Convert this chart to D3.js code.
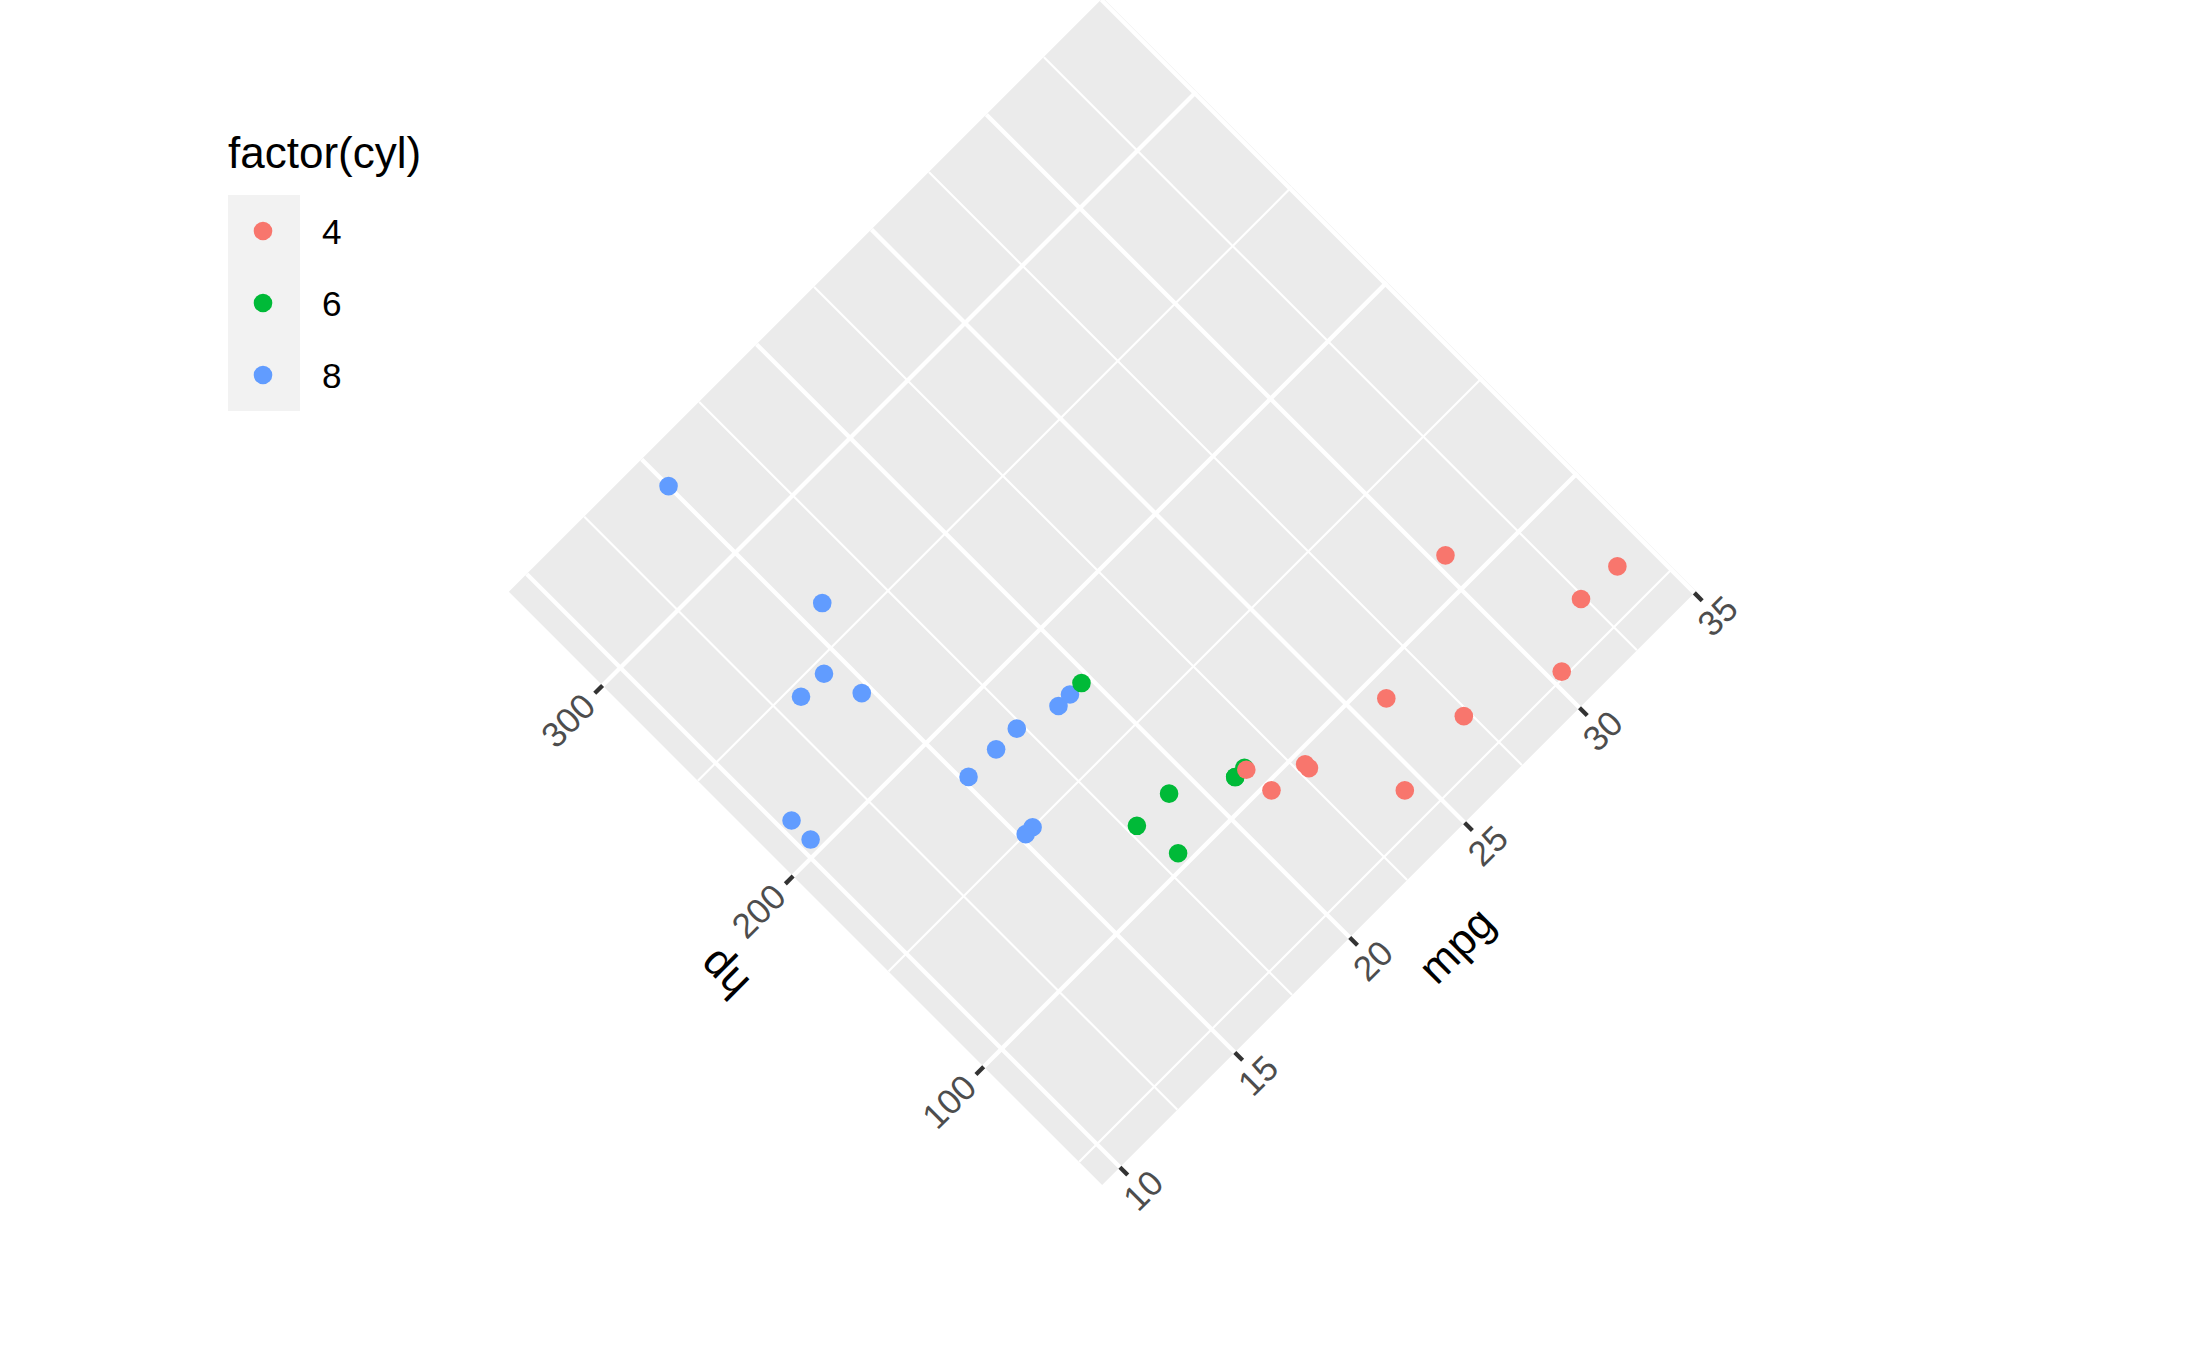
<!DOCTYPE html>
<html>
<head>
<meta charset="utf-8">
<script src="https://cdn.jsdelivr.net/npm/d3@7"></script>
<style>
  html, body { margin: 0; padding: 0; background: #ffffff; }
  svg { display: block; }
  text { font-family: "Liberation Sans", Arial, Helvetica, sans-serif; }
</style>
</head>
<body>
<svg id="chart" width="2188" height="1352"></svg>
<script>
// mtcars: mpg, hp, cyl
const mpg = [21.0, 21.0, 22.8, 21.4, 18.7, 18.1, 14.3, 24.4, 22.8, 19.2, 17.8, 16.4, 17.3, 15.2, 10.4, 10.4,
             14.7, 32.4, 30.4, 33.9, 21.5, 15.5, 15.2, 13.3, 19.2, 27.3, 26.0, 30.4, 15.8, 19.7, 15.0, 21.4];
const hp  = [110, 110, 93, 110, 175, 105, 245, 62, 95, 123, 123, 180, 180, 180, 205, 215,
             230, 66, 52, 65, 97, 150, 150, 245, 175, 66, 91, 113, 264, 175, 335, 109];
const cyl = [6, 6, 4, 6, 8, 6, 8, 4, 4, 6, 6, 8, 8, 8, 8, 8,
             8, 4, 4, 4, 4, 8, 8, 8, 8, 4, 4, 4, 8, 6, 8, 4];
const cylLevels = ["4", "6", "8"];
const cylColors = ["#F8766D", "#00BA38", "#619CFF"];
const mpgMajor = [10, 15, 20, 25, 30, 35];
const mpgMinor = [12.5, 17.5, 22.5, 27.5, 32.5];
const hpMajor = [100, 200, 300];
const hpMinor = [50, 150, 250];

const svg = d3.select("#chart");
const W = 840, H = 839;
const cx = 1102.5, cy = 591.5;

// continuous scales with ggplot's 5% expansion
const mpgExt = d3.extent(mpg), hpExt = d3.extent(hp);
const mpgPad = (mpgExt[1] - mpgExt[0]) * 0.05, hpPad = (hpExt[1] - hpExt[0]) * 0.05;
const x = d3.scaleLinear().domain([mpgExt[0] - mpgPad, mpgExt[1] + mpgPad]).range([-W / 2, W / 2]);
const y = d3.scaleLinear().domain([hpExt[0] - hpPad, hpExt[1] + hpPad]).range([H / 2, -H / 2]);
const color = d3.scaleOrdinal().domain(cylLevels).range(cylColors);

svg.append("defs").append("clipPath").attr("id", "panelClip")
  .append("rect").attr("x", -W / 2).attr("y", -H / 2).attr("width", W).attr("height", H);

const g = svg.append("g").attr("transform", `translate(${cx},${cy}) rotate(-45)`);

g.append("rect").attr("x", -W / 2).attr("y", -H / 2).attr("width", W).attr("height", H)
  .attr("fill", "#EBEBEB");

const grid = g.append("g").attr("clip-path", "url(#panelClip)");
// minor grid
grid.selectAll("line.xminor").data(mpgMinor).join("line")
  .attr("x1", d => x(d)).attr("x2", d => x(d)).attr("y1", -H / 2).attr("y2", H / 2)
  .attr("stroke", "#ffffff").attr("stroke-width", 2.13);
grid.selectAll("line.yminor").data(hpMinor).join("line")
  .attr("y1", d => y(d)).attr("y2", d => y(d)).attr("x1", -W / 2).attr("x2", W / 2)
  .attr("stroke", "#ffffff").attr("stroke-width", 2.13);
// major grid
grid.selectAll("line.xmajor").data(mpgMajor).join("line")
  .attr("x1", d => x(d)).attr("x2", d => x(d)).attr("y1", -H / 2).attr("y2", H / 2)
  .attr("stroke", "#ffffff").attr("stroke-width", 4.27);
grid.selectAll("line.ymajor").data(hpMajor).join("line")
  .attr("y1", d => y(d)).attr("y2", d => y(d)).attr("x1", -W / 2).attr("x2", W / 2)
  .attr("stroke", "#ffffff").attr("stroke-width", 4.27);

// points
const pts = mpg.map((m, i) => ({ mpg: m, hp: hp[i], cyl: String(cyl[i]) }));
g.append("g").attr("clip-path", "url(#panelClip)")
  .selectAll("circle").data(pts).join("circle")
  .attr("cx", d => x(d.mpg)).attr("cy", d => y(d.hp)).attr("r", 9.3)
  .attr("fill", d => color(d.cyl));

// x axis (mpg)
const tickLen = 11, tickGap = 8.8, tickFs = 35.2;
const xa = g.append("g");
xa.selectAll("line").data(mpgMajor).join("line")
  .attr("x1", d => x(d)).attr("x2", d => x(d)).attr("y1", H / 2).attr("y2", H / 2 + tickLen)
  .attr("stroke", "#333333").attr("stroke-width", 4.27);
xa.selectAll("text").data(mpgMajor).join("text")
  .attr("x", d => x(d)).attr("y", H / 2 + tickLen + tickGap + 0.716 * tickFs)
  .attr("text-anchor", "middle").attr("font-size", tickFs).attr("fill", "#4D4D4D")
  .text(d => d);

// y axis (hp)
const ya = g.append("g");
ya.selectAll("line").data(hpMajor).join("line")
  .attr("y1", d => y(d)).attr("y2", d => y(d)).attr("x1", -W / 2).attr("x2", -W / 2 - tickLen)
  .attr("stroke", "#333333").attr("stroke-width", 4.27);
ya.selectAll("text").data(hpMajor).join("text")
  .attr("x", -W / 2 - tickLen - tickGap).attr("y", d => y(d) + 0.358 * tickFs)
  .attr("text-anchor", "end").attr("font-size", tickFs).attr("fill", "#4D4D4D")
  .text(d => d);

// axis titles
g.append("text").attr("x", 0).attr("y", H / 2 + 96)
  .attr("text-anchor", "middle").attr("font-size", 44).attr("fill", "#000000").text("mpg");
g.append("text").attr("transform", `translate(${-W / 2 - 104},3) rotate(-90)`)
  .attr("text-anchor", "middle").attr("font-size", 44).attr("fill", "#000000").text("hp");

// legend
const leg = svg.append("g");
leg.append("text").attr("x", 228).attr("y", 168).attr("font-size", 44).attr("fill", "#000000")
  .text("factor(cyl)");
const keyTop = 195, keySize = 72;
const keys = leg.selectAll("g.key").data(cylLevels).join("g")
  .attr("transform", (d, i) => `translate(228,${keyTop + i * keySize})`);
keys.append("rect").attr("width", keySize).attr("height", keySize).attr("fill", "#F2F2F2");
keys.append("circle").attr("cx", 35).attr("cy", 36).attr("r", 9.3).attr("fill", d => color(d));
keys.append("text").attr("x", 94).attr("y", 36 + 0.358 * 35.2).attr("font-size", 35.2)
  .attr("fill", "#000000").text(d => d);
</script>
</body>
</html>
